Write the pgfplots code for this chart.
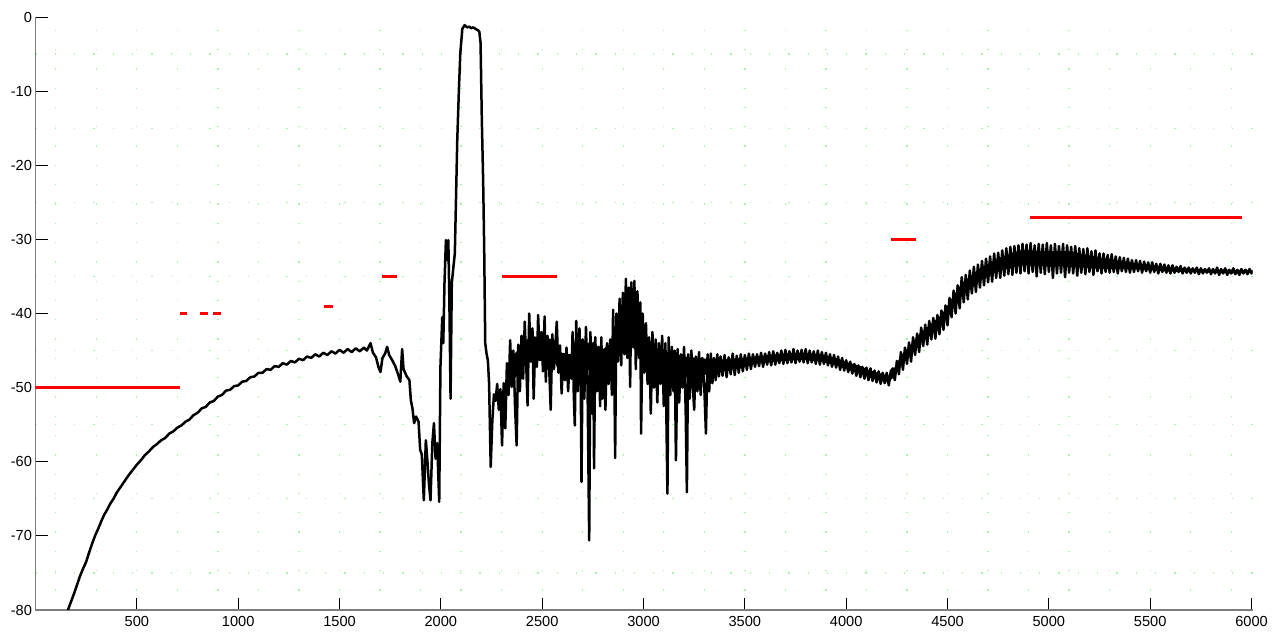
\documentclass[border=0pt]{standalone}
\usepackage{fontspec}
\setmainfont{Liberation Sans}
\usepackage{pgfplots}
\pgfplotsset{compat=1.18}
\definecolor{maskred}{RGB}{255,0,0}
\definecolor{axgray}{RGB}{125,125,125}
\definecolor{griddot}{RGB}{175,240,175}
\begin{document}
\begin{tikzpicture}
\useasboundingbox (0,0) rectangle (1282bp,637bp);
\begin{axis}[
  at={(35.5bp,27bp)}, anchor=south west,
  scale only axis, width=1217bp, height=593bp,
  xmin=0, xmax=6005, ymin=-80, ymax=0,
  axis x line=bottom, axis y line=left,
  axis line style={-, axgray, line width=1.6bp},
  xtick={500,1000,...,6000}, ytick={-80,-70,...,0},
  minor xtick={100,300,...,5900}, minor ytick={-75,-65,...,-5},
  tick align=inside, major tick length=12bp, minor tick length=0pt,
  tick style={black, line width=0.9bp},
  grid=minor,
  minor grid style={griddot, line width=1.3bp, dash pattern=on 1.3bp off 18bp},
  /pgf/number format/assume math mode=true,
  /pgf/number format/1000 sep={},
  tick label style={font=\fontsize{14.6bp}{17bp}\selectfont, black},
  xticklabel style={yshift=-3bp},
  clip=true,
]
% dense core of the noisy bands
\addplot[fill=black, draw=none] coordinates {
(2330,-48) (2345,-46) (2410,-44) (2440,-43) (2560,-43.5) (2580,-45.2) (2640,-45.5) (2660,-43.8)
(2760,-44) (2790,-45) (2840,-44) (2870,-40.5) (2910,-38.5) (2960,-38.5) (2990,-41) (3020,-44.2)
(3120,-45.2) (3200,-45.8) (3380,-46.3)
(3380,-47.6) (3300,-48.3) (3200,-48.6) (3120,-48.6) (3020,-47.8) (2990,-45.5) (2940,-44.5) (2880,-45.5)
(2840,-47.5) (2760,-47.8) (2660,-47.3) (2640,-47.6) (2580,-47.6) (2560,-46.5) (2440,-46.3) (2410,-47.2)
(2345,-49.5) (2330,-50.5)
} -- cycle;
\addplot[fill=black, draw=none] coordinates {
(3380,-46.2) (3480,-46.0) (3550,-45.8) (3650,-45.5) (3744,-45.3) (3800,-45.3) (3876,-45.5) (3950,-46.0)
(4020,-46.7) (4073,-47.1) (4120,-47.7) (4172,-48.1) (4210,-48.4) (4230,-47.7) (4270,-45.7) (4370,-42.5)
(4470,-40.2) (4570,-35.9) (4670,-33.7) (4770,-32.3) (4870,-31.4) (5000,-31.6) (5100,-31.6) (5260,-32.5)
(5424,-33.2) (5590,-33.75) (5755,-34.05) (5900,-34.1) (6005,-34.1)
(6005,-34.5) (5900,-34.6) (5755,-34.45) (5590,-34.35) (5424,-34.0) (5260,-34.0) (5100,-33.65) (5000,-33.65)
(4870,-33.5) (4770,-34.1) (4670,-35.4) (4570,-37.7) (4470,-41.6) (4370,-43.9) (4270,-47.1) (4230,-48.7)
(4210,-49.3) (4172,-49.1) (4120,-48.7) (4073,-48.1) (4020,-47.7) (3950,-47.0) (3876,-46.5) (3800,-46.3)
(3744,-46.3) (3650,-46.5) (3550,-46.8) (3480,-47.4) (3380,-47.8)
} -- cycle;
% spectrum
\addplot[black, line width=2.5bp, line join=round] coordinates {
(150,-81.3) (160,-80.0) (175,-78.9) (190,-77.8) (205,-76.6) (220,-75.4) (235,-74.4) (250,-73.5)
(265,-72.2) (280,-71.0) (295,-69.9) (310,-69.0) (325,-68.0) (340,-67.1) (355,-66.4) (370,-65.6)
(385,-65.0) (400,-64.2) (420,-63.4) (440,-62.6) (460,-61.8) (480,-61.1) (500,-60.4) (520,-59.8)
(540,-59.1) (560,-58.6) (580,-58.0) (600,-57.6) (620,-57.1) (640,-56.8) (660,-56.2) (680,-55.9)
(700,-55.4) (720,-55.1) (740,-54.6) (760,-54.3) (780,-53.7) (800,-53.4) (820,-52.8) (840,-52.6)
(860,-52.0) (880,-51.8) (900,-51.2) (920,-51.0) (940,-50.4) (960,-50.3) (980,-49.8) (1000,-49.7)
(1020,-49.2) (1040,-49.1) (1060,-48.6) (1080,-48.5) (1100,-48.0) (1120,-48.0) (1140,-47.5) (1160,-47.6)
(1180,-47.1) (1200,-47.2) (1220,-46.7) (1240,-46.9) (1260,-46.4) (1280,-46.6) (1300,-46.1) (1320,-46.3)
(1340,-45.8) (1360,-46.0) (1380,-45.5) (1400,-45.8) (1420,-45.3) (1440,-45.6) (1460,-45.1) (1480,-45.4)
(1500,-44.9) (1520,-45.3) (1540,-44.8) (1560,-45.2) (1580,-44.7) (1600,-45.1)
(1620,-44.6) (1635,-45.0) (1653,-44.0) (1665,-45.3) (1680,-45.9) (1692,-47.2) (1702,-47.9) (1712,-46.0)
(1725,-45.4) (1735,-44.5) (1745,-45.6) (1760,-46.3) (1775,-47.1) (1790,-48.3) (1800,-49.2) (1809,-44.8)
(1816,-47.5) (1830,-48.4) (1845,-49.0) (1852,-51.7) (1860,-52.8) (1868,-54.8) (1878,-53.9) (1890,-54.6)
(1898,-58.4) (1906,-59.0) (1916,-65.2) (1926,-57.1) (1933,-59.6) (1941,-62.9) (1949,-65.2) (1958,-57.5)
(1966,-54.8) (1974,-59.6) (1982,-57.5) (1992,-65.4) (1998,-47.2) (2007,-40.5) (2012,-44.0) (2018,-35.9)
(2025,-30.1) (2032,-32.8) (2037,-30.1) (2042,-38.2) (2048,-51.5) (2054,-35.9) (2061,-34.0) (2069,-31.9)
(2081,-16.6) (2089,-9.9) (2096,-4.9) (2106,-1.6) (2117,-1.1) (2130,-1.4) (2140,-1.3) (2150,-1.5)
(2160,-1.4) (2171,-1.6) (2184,-1.8) (2190,-2.0) (2196,-3.5) (2202,-13.5) (2209,-22.5) (2214,-31.5)
(2219,-44.0) (2226,-45.5) (2232,-46.3) (2238,-49.4) (2246,-60.7) (2254,-54.5) (2262,-50.9)
(2270,-51.8) (2278,-49.5) (2286,-53.0) (2294,-50.2) (2302,-57.8) (2310,-49.4) (2318,-55.5) (2326,-46.7)
(2334,-51.0) (2342,-43.6) (2350,-49.9) (2358,-45.0) (2366,-52.5) (2374,-57.8) (2382,-44.2) (2390,-50.5)
(2398,-43.0) (2406,-48.8) (2414,-41.1) (2422,-47.5) (2428,-52.4) (2436,-40.0) (2444,-46.5) (2452,-42.0)
(2458,-51.5) (2466,-43.5) (2474,-47.2) (2480,-40.2) (2488,-46.0) (2496,-42.5) (2504,-47.8) (2512,-40.4)
(2518,-49.2) (2526,-43.0) (2534,-46.9) (2542,-53.0) (2550,-42.8) (2558,-47.5) (2566,-44.0) (2572,-41.1)
(2580,-48.0) (2588,-44.3) (2596,-50.8) (2604,-45.5) (2612,-49.0) (2620,-44.6) (2628,-50.5) (2636,-46.0)
(2644,-48.8) (2650,-42.5) (2656,-51.0) (2661,-55.1) (2668,-41.0) (2676,-50.5) (2684,-42.0) (2690,-48.0)
(2694,-62.7) (2700,-43.5) (2708,-51.5) (2716,-41.8) (2724,-50.0) (2732,-70.6) (2738,-42.5) (2746,-53.5)
(2752,-44.0) (2756,-60.9) (2762,-43.2) (2770,-50.5) (2778,-44.5) (2786,-52.5) (2792,-43.2) (2797,-51.5)
(2804,-45.0) (2812,-53.0) (2820,-44.0) (2828,-49.5) (2836,-43.5) (2844,-51.0) (2850,-39.5) (2856,-47.5)
(2860,-59.5) (2866,-40.0) (2874,-46.5) (2882,-38.0) (2890,-47.0) (2898,-37.2) (2906,-45.5) (2913,-35.3)
(2920,-46.0) (2928,-36.5) (2934,-49.9) (2940,-35.8) (2948,-44.5) (2955,-35.6) (2962,-47.5) (2970,-37.0)
(2978,-46.0) (2984,-38.5) (2988,-56.2) (2996,-40.0) (3004,-48.0) (3012,-41.3) (3020,-49.5) (3028,-43.2)
(3036,-53.5) (3044,-42.5) (3052,-50.0) (3060,-43.5) (3068,-52.0) (3076,-44.0) (3084,-49.5) (3092,-43.0)
(3100,-52.5) (3108,-44.0) (3118,-64.3) (3124,-43.2) (3132,-51.0) (3140,-44.5) (3148,-50.5) (3154,-45.0)
(3160,-59.8) (3168,-44.8) (3176,-52.0) (3184,-45.5) (3192,-50.0) (3200,-44.5) (3208,-53.0) (3214,-64.1)
(3220,-45.5) (3228,-51.5) (3236,-45.0) (3244,-50.0) (3250,-53.0) (3258,-45.8) (3266,-50.5) (3274,-45.2)
(3282,-51.0) (3290,-46.0) (3300,-50.0) (3308,-56.2) (3316,-45.5) (3324,-50.5) (3332,-45.4) (3340,-49.4)
(3348,-46.0) (3356,-49.0) (3364,-45.5) (3372,-48.5) (3380,-45.8)
(3390,-48.4) (3400,-45.6) (3410,-48.6) (3420,-45.9) (3430,-48.2) (3440,-45.4) (3450,-48.3) (3460,-45.7)
(3470,-48.0) (3480,-45.5) (3490,-47.8) (3500,-45.6) (3510,-47.6) (3520,-45.4) (3530,-47.5) (3540,-45.5)
(3550,-47.2) (3560,-45.5) (3570,-47.1) (3580,-45.3) (3590,-47.2) (3600,-45.4) (3610,-46.9) (3620,-45.2)
(3630,-47.0) (3640,-45.1) (3650,-46.9) (3660,-45.3) (3670,-46.7) (3680,-45.0) (3690,-46.8) (3700,-44.9)
(3710,-46.7) (3720,-45.1) (3730,-46.6) (3740,-44.8) (3750,-46.7) (3760,-45.0) (3770,-46.5) (3780,-44.9)
(3790,-46.6) (3800,-44.8) (3810,-46.7) (3820,-45.0) (3830,-46.6) (3840,-45.1) (3850,-46.8) (3860,-45.0)
(3870,-46.9) (3880,-45.2) (3890,-46.8) (3900,-45.3) (3910,-47.0) (3920,-45.5) (3930,-47.2) (3940,-45.6)
(3950,-47.3) (3960,-45.8) (3970,-47.6) (3980,-46.0) (3990,-47.7) (4000,-46.3) (4010,-47.9) (4020,-46.5)
(4030,-48.1) (4040,-46.8) (4050,-48.4) (4060,-47.0) (4070,-48.6) (4080,-47.2) (4090,-48.8) (4100,-47.3)
(4110,-49.0) (4120,-47.4) (4130,-49.1) (4140,-47.7) (4150,-49.3) (4160,-47.8) (4170,-49.5) (4180,-48.0)
(4190,-49.4) (4200,-48.0) (4210,-49.7) (4220,-47.8)
(4230,-47.4) (4240,-49.0) (4250,-46.4) (4260,-48.2) (4270,-45.2) (4280,-47.6) (4290,-44.6) (4300,-46.8)
(4310,-43.9) (4320,-46.5) (4330,-43.2) (4340,-45.6) (4350,-42.7) (4360,-45.2) (4370,-41.9) (4380,-44.4)
(4390,-41.5) (4400,-44.2) (4410,-41.0) (4420,-43.5) (4430,-40.6) (4440,-43.4) (4450,-40.2) (4460,-42.8)
(4470,-39.6) (4480,-42.2) (4490,-38.9) (4500,-41.6) (4510,-37.9) (4520,-40.5) (4530,-36.9) (4540,-40.0)
(4550,-36.2) (4560,-39.3) (4570,-35.1) (4580,-38.5) (4590,-34.8) (4600,-38.1) (4610,-34.2) (4620,-37.3)
(4630,-33.7) (4640,-37.1) (4650,-33.4) (4660,-36.5) (4670,-32.9) (4680,-36.2) (4690,-32.6) (4700,-35.8)
(4710,-32.3) (4720,-35.7) (4730,-31.9) (4740,-35.2) (4750,-31.8) (4760,-35.2) (4770,-31.5) (4780,-34.9)
(4790,-31.2) (4800,-34.7) (4810,-31.0) (4820,-34.8) (4830,-30.9) (4840,-34.5) (4850,-30.8) (4860,-34.6)
(4870,-30.6) (4880,-34.3) (4890,-30.7) (4900,-34.6) (4910,-30.5) (4920,-34.4) (4930,-30.8) (4940,-35.0)
(4950,-30.6) (4960,-34.5) (4970,-30.7) (4980,-34.7) (4990,-30.5) (5000,-34.4) (5010,-30.8) (5020,-35.2)
(5030,-30.6) (5040,-34.6) (5050,-30.9) (5060,-34.5) (5070,-30.6) (5080,-35.1) (5090,-30.8) (5100,-34.5)
(5110,-31.0) (5120,-34.6) (5130,-30.9) (5140,-34.9) (5150,-31.2) (5160,-34.5) (5170,-31.3) (5180,-34.7)
(5190,-31.2) (5200,-34.4) (5210,-31.6) (5220,-34.8) (5230,-31.5) (5240,-34.3) (5250,-31.9) (5260,-34.6)
(5270,-31.9) (5280,-34.4) (5290,-32.1) (5300,-34.5) (5310,-32.0) (5320,-34.4) (5330,-32.3) (5340,-34.6)
(5350,-32.4) (5360,-34.3) (5370,-32.5) (5380,-34.4) (5390,-32.6) (5400,-34.5) (5410,-32.8) (5420,-34.4)
(5430,-32.8) (5440,-34.3) (5450,-32.9) (5460,-34.5) (5470,-33.0) (5480,-34.3) (5490,-33.1) (5500,-34.5)
(5510,-33.1) (5520,-34.4) (5530,-33.3) (5540,-34.6) (5550,-33.3) (5560,-34.4) (5570,-33.4) (5580,-34.5)
(5590,-33.5) (5600,-34.6) (5610,-33.5) (5620,-34.5) (5630,-33.7) (5640,-34.4) (5650,-33.6) (5660,-34.6)
(5670,-33.8) (5680,-34.5) (5690,-33.8) (5700,-34.6) (5710,-33.9) (5720,-34.5) (5730,-33.8) (5740,-34.7)
(5750,-33.9) (5760,-34.6) (5770,-34.0) (5780,-34.5) (5790,-33.9) (5800,-34.7) (5810,-34.0) (5820,-34.6)
(5830,-33.8) (5840,-34.8) (5850,-34.0) (5860,-34.6) (5870,-33.9) (5880,-34.8) (5890,-34.1) (5900,-34.6)
(5910,-33.9) (5920,-34.7) (5930,-34.1) (5940,-34.8) (5950,-34.0) (5960,-34.6) (5970,-34.1) (5980,-34.7)
(5990,-34.0) (6000,-34.6) (6005,-34.3)
};
% limit lines
\addplot[maskred, line width=3bp] coordinates {(0,-50) (714,-50)};
\addplot[maskred, line width=3bp] coordinates {(714,-40) (748,-40)};
\addplot[maskred, line width=3bp] coordinates {(813,-40) (849,-40)};
\addplot[maskred, line width=3bp] coordinates {(878,-40) (915,-40)};
\addplot[maskred, line width=3bp] coordinates {(1425,-39) (1466,-39)};
\addplot[maskred, line width=3bp] coordinates {(1712,-35) (1785,-35)};
\addplot[maskred, line width=3bp] coordinates {(2303,-35) (2572,-35)};
\addplot[maskred, line width=3bp] coordinates {(4222,-30) (4342,-30)};
\addplot[maskred, line width=3bp] coordinates {(4905,-27) (5955,-27)};
\end{axis}
\end{tikzpicture}
\end{document}
